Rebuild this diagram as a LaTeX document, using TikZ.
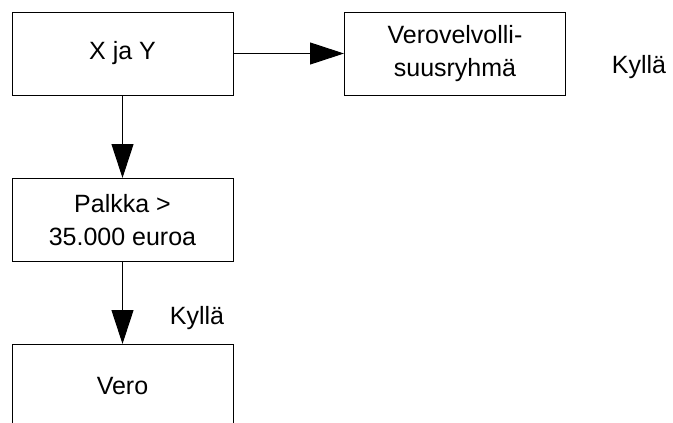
\documentclass[tikz,border=0pt]{standalone}
\usepackage{fontspec}
\setmainfont{Liberation Sans}
\usetikzlibrary{arrows.meta}

\tikzset{
  flowbox/.style={draw=black, line width=1pt, minimum width=221pt, minimum height=83pt,
    inner sep=0pt, align=center, font=\fontsize{25}{33}\selectfont},
  flowarrow/.style={line width=1pt, -{Triangle[length=34pt, width=22pt]}},
  answer/.style={anchor=base, inner sep=0pt, font=\fontsize{25}{33}\selectfont}
}

\begin{document}
\begin{tikzpicture}[x=1pt, y=-1pt]
  \clip (0,0) rectangle (673,423);
  \fill[white] (0,0) rectangle (673,423);

  \node[flowbox] (xy)    at (122.5, 53.5)  {X ja Y};
  \node[flowbox] (group) at (455, 53.5)    {Verovelvolli-\\suusryhmä};
  \node[flowbox] (wage)  at (122.5, 220)   {Palkka >\\35.000 euroa};
  \node[flowbox] (tax)   at (122.5, 386)   {Vero};

  \node[answer] (yes1) at (639, 73)  {Kyllä};
  \node[answer] (yes2) at (197, 324) {Kyllä};

  \draw[flowarrow] (xy.east) -- (group.west);
  \draw[flowarrow] (xy.south) -- (wage.north);
  \draw[flowarrow] (wage.south) -- (tax.north);
\end{tikzpicture}
\end{document}
